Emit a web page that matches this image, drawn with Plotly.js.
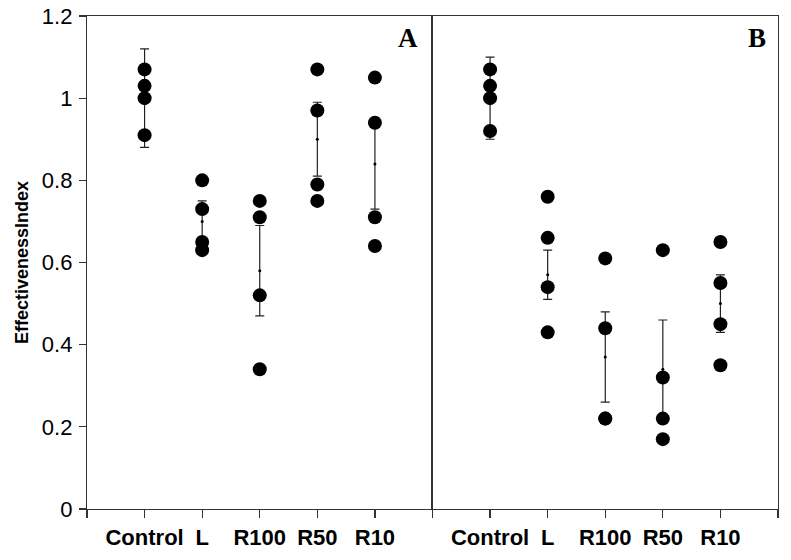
<!DOCTYPE html>
<html>
<head>
<meta charset="utf-8">
<script src="https://cdn.plot.ly/plotly-3.0.1.min.js"></script>
<style>html,body{margin:0;padding:0;background:#fff;}#chart{width:791px;height:560px;}</style>
</head>
<body>
<div id="chart"></div>
<script>
const categories = ['Control', 'L', 'R100', 'R50', 'R10'];
const tickLabels = ['', 'Control', 'L', 'R100', 'R50', 'R10', ''];
const yTicks = [0, 0.2, 0.4, 0.6, 0.8, 1, 1.2];

const pointsA = [[1.07, 1.03, 1.00, 0.91], [0.80, 0.73, 0.65, 0.63], [0.75, 0.71, 0.52, 0.34], [1.07, 0.97, 0.79, 0.75], [1.05, 0.94, 0.71, 0.64]];
const meansA = [1.00, 0.70, 0.58, 0.90, 0.84];
const errA = [0.12, 0.05, 0.11, 0.09, 0.11];

const pointsB = [[1.07, 1.03, 1.00, 0.92], [0.76, 0.66, 0.54, 0.43], [0.61, 0.44, 0.22, 0.22], [0.63, 0.32, 0.22, 0.17], [0.65, 0.55, 0.45, 0.35]];
const meansB = [1.00, 0.57, 0.37, 0.34, 0.50];
const errB = [0.10, 0.06, 0.11, 0.12, 0.07];

const xPos = categories.map((c, i) => i + 1);

function flatten(points) {
  const xs = [], ys = [];
  points.forEach((arr, i) => arr.forEach(v => { xs.push(xPos[i]); ys.push(v); }));
  return {xs, ys};
}

function panelTraces(points, means, errs, xa, ya) {
  const f = flatten(points);
  return [
    {type: 'scatter', mode: 'markers', x: xPos, y: means, xaxis: xa, yaxis: ya,
     marker: {color: '#000', size: 3},
     error_y: {type: 'data', array: errs, visible: true, color: '#222', thickness: 1.2, width: 4.5},
     hoverinfo: 'skip', showlegend: false},
    {type: 'scatter', mode: 'markers', x: f.xs, y: f.ys, xaxis: xa, yaxis: ya,
     marker: {color: '#000', size: 14, line: {width: 0}},
     showlegend: false}
  ];
}

const data = [].concat(
  panelTraces(pointsA, meansA, errA, 'x', 'y'),
  panelTraces(pointsB, meansB, errB, 'x2', 'y2')
);

const tickFont = {family: 'Liberation Sans, Arial, sans-serif', size: 22, color: '#000'};
const xFont = {family: 'Liberation Sans, Arial, sans-serif', size: 22, color: '#000', weight: 'bold'};

function xAxis(domain, anchor) {
  return {
    domain: domain, anchor: anchor, range: [0, 6], tickmode: 'array',
    tickvals: [0, 1, 2, 3, 4, 5, 6], ticktext: tickLabels,
    ticks: 'outside', ticklen: 8, tickwidth: 1.2, tickcolor: '#333',
    showline: true, linecolor: '#333', linewidth: 1.2, mirror: true,
    showgrid: false, zeroline: false, tickfont: xFont, fixedrange: true
  };
}

const layout = {
  width: 791, height: 560,
  margin: {l: 87, r: 13, t: 16, b: 51},
  paper_bgcolor: '#fff', plot_bgcolor: '#fff',
  xaxis: xAxis([0, 0.5], 'y'),
  xaxis2: xAxis([0.5, 1], 'y2'),
  yaxis: {
    range: [0, 1.2], anchor: 'x', tickmode: 'array', tickvals: yTicks,
    ticktext: yTicks.map(v => String(v)),
    ticks: 'outside', ticklen: 7, tickwidth: 1.2, tickcolor: '#333',
    showline: true, linecolor: '#333', linewidth: 1.2, mirror: false,
    showgrid: false, zeroline: false, tickfont: tickFont, ticklabelstandoff: 2,
    title: {text: 'EffectivenessIndex', standoff: 8,
            font: {family: 'Liberation Sans, Arial, sans-serif', size: 18, color: '#000', weight: 'bold'}},
    fixedrange: true
  },
  yaxis2: {
    range: [0, 1.2], anchor: 'x2', showticklabels: false, ticks: '',
    showline: true, linecolor: '#333', linewidth: 1.2, mirror: true,
    showgrid: false, zeroline: false, fixedrange: true
  },
  annotations: [
    {text: 'A', xref: 'x domain', yref: 'y domain', x: 0.93, y: 0.955, showarrow: false,
     xanchor: 'center', yanchor: 'middle',
     font: {family: 'Liberation Serif, Times New Roman, serif', size: 27, color: '#000', weight: 'bold'}},
    {text: 'B', xref: 'x2 domain', yref: 'y2 domain', x: 0.94, y: 0.955, showarrow: false,
     xanchor: 'center', yanchor: 'middle',
     font: {family: 'Liberation Serif, Times New Roman, serif', size: 27, color: '#000', weight: 'bold'}}
  ]
};

Plotly.newPlot('chart', data, layout, {displayModeBar: false, staticPlot: true});
</script>
</body>
</html>
